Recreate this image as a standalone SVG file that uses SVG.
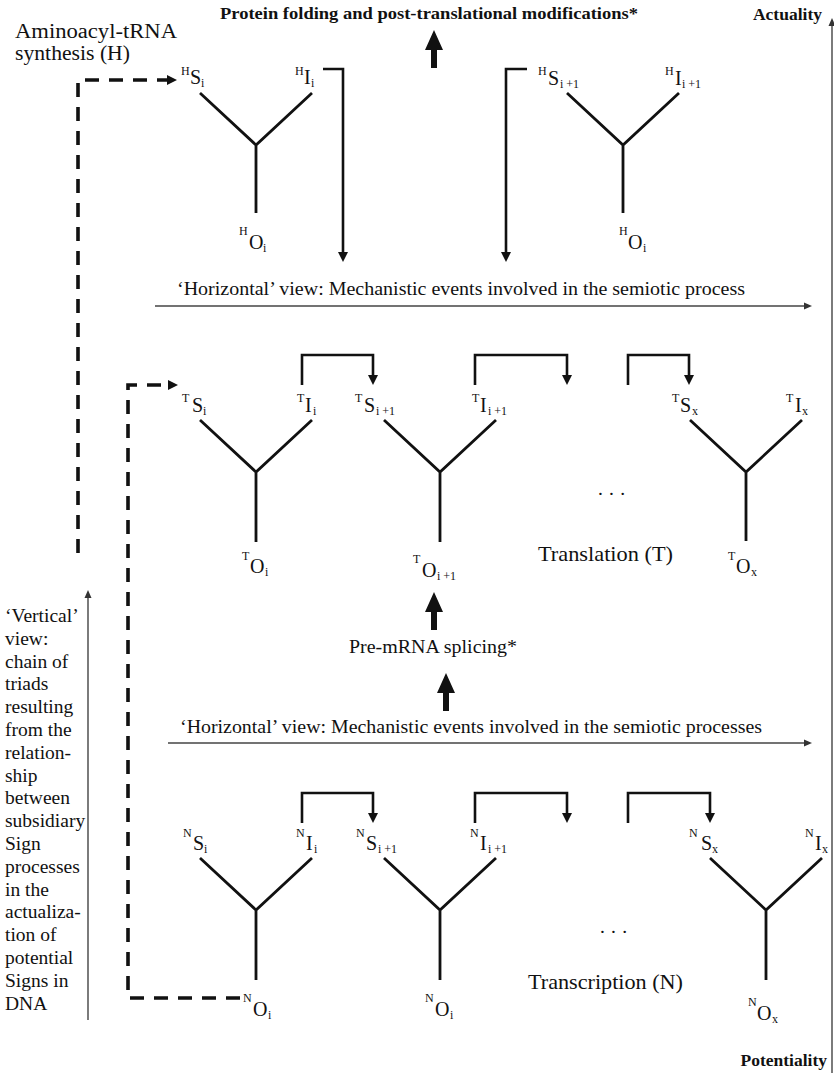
<svg xmlns="http://www.w3.org/2000/svg" width="834" height="1073" viewBox="0 0 834 1073">
<style>
text{font-family:"Liberation Serif","Times New Roman",serif;fill:#111}
.t{font-size:19.5px}
.b{font-size:17.5px;font-weight:bold}
.sup{font-size:12px}
.main{font-size:20px}
.sub{font-size:12px}
.tri{fill:none;stroke:#111;stroke-width:2.8;stroke-linejoin:miter}
.br{fill:none;stroke:#111;stroke-width:2.6;marker-end:url(#ah)}
.dash{fill:none;stroke:#111;stroke-width:3.6;stroke-dasharray:14 10;marker-end:url(#dh)}
.thin{fill:none;stroke:#444;stroke-width:1.4;marker-end:url(#th)}
.blk{fill:#111}
</style>
<defs>
<marker id="ah" markerUnits="userSpaceOnUse" markerWidth="10" markerHeight="10" refX="0" refY="5" orient="auto"><path d="M0,0 L10,5 L0,10 Z" fill="#111"/></marker>
<marker id="dh" markerUnits="userSpaceOnUse" markerWidth="12" markerHeight="12" refX="0" refY="6" orient="auto"><path d="M0,1 L10,6 L0,11 Z" fill="#111"/></marker>
<marker id="th" markerUnits="userSpaceOnUse" markerWidth="9" markerHeight="8" refX="0" refY="4" orient="auto"><path d="M0,0.5 L8,4 L0,7.5 Z" fill="#333"/></marker>
<path id="blockArrow" d="M0,0 L9,20 L3,20 L3,38 L-3,38 L-3,20 L-9,20 Z"/>
</defs>

<g id="labels">
<text class="b" x="220" y="19" textLength="418" lengthAdjust="spacingAndGlyphs">Protein folding and post-translational modifications*</text>
<text class="b" x="822" y="20" text-anchor="end">Actuality</text>
<text class="t" x="15" y="38" textLength="162" lengthAdjust="spacingAndGlyphs" style="font-size:20px">Aminoacyl-tRNA</text>
<text class="t" x="15" y="60" textLength="115" lengthAdjust="spacingAndGlyphs" style="font-size:20px">synthesis (H)</text>
<text class="t" x="177" y="295" textLength="568" lengthAdjust="spacingAndGlyphs">‘Horizontal’ view: Mechanistic events involved in the semiotic process</text>
<text class="t" x="538" y="561" textLength="135" lengthAdjust="spacingAndGlyphs" style="font-size:21px">Translation (T)</text>
<text class="t" x="598" y="495" textLength="27" lengthAdjust="spacing">. . .</text>
<text class="t" x="349" y="653" textLength="168" lengthAdjust="spacingAndGlyphs">Pre-mRNA splicing*</text>
<text class="t" x="180" y="733" textLength="582" lengthAdjust="spacingAndGlyphs">‘Horizontal’ view: Mechanistic events involved in the semiotic processes</text>
<text class="t" x="600" y="933" textLength="27" lengthAdjust="spacing">. . .</text>
<text class="t" x="528" y="989" textLength="155" lengthAdjust="spacingAndGlyphs" style="font-size:21px">Transcription (N)</text>
<text class="b" x="827" y="1066" text-anchor="end">Potentiality</text>
<text class="t" x="5">
<tspan x="5" y="622">‘Vertical’</tspan>
<tspan x="5" y="644.8">view:</tspan>
<tspan x="5" y="667.6">chain of</tspan>
<tspan x="5" y="690.4">triads</tspan>
<tspan x="5" y="713.2">resulting</tspan>
<tspan x="5" y="736">from the</tspan>
<tspan x="5" y="758.8">relation-</tspan>
<tspan x="5" y="781.6">ship</tspan>
<tspan x="5" y="804.4">between</tspan>
<tspan x="5" y="827.2">subsidiary</tspan>
<tspan x="5" y="850">Sign</tspan>
<tspan x="5" y="872.8">processes</tspan>
<tspan x="5" y="895.6">in the</tspan>
<tspan x="5" y="918.4">actualiza-</tspan>
<tspan x="5" y="941.2">tion of</tspan>
<tspan x="5" y="964">potential</tspan>
<tspan x="5" y="986.8">Signs in</tspan>
<tspan x="5" y="1009.6">DNA</tspan>
</text>
</g>

<g id="triad-H-i">
<path class="tri" d="M200,93 L256,145 L312,93 M256,145 V213"/>
<text><tspan class="sup" x="181" y="75">H</tspan><tspan class="main" x="190" y="84">S</tspan><tspan class="sub" x="201" y="87">i</tspan></text>
<text><tspan class="sup" x="295" y="75">H</tspan><tspan class="main" x="304" y="84">I</tspan><tspan class="sub" x="311" y="87">i</tspan></text>
<text><tspan class="sup" x="239" y="235">H</tspan><tspan class="main" x="249" y="249">O</tspan><tspan class="sub" x="263" y="252">i</tspan></text>
</g>

<g id="triad-H-i1">
<path class="tri" d="M567,93 L623,145 L679,93 M623,145 V213"/>
<text><tspan class="sup" x="538" y="75">H</tspan><tspan class="main" x="548" y="85">S</tspan><tspan class="sub" x="560" y="88">i +1</tspan></text>
<text><tspan class="sup" x="665" y="75">H</tspan><tspan class="main" x="675" y="85">I</tspan><tspan class="sub" x="682" y="88">i +1</tspan></text>
<text><tspan class="sup" x="619" y="235">H</tspan><tspan class="main" x="628" y="249">O</tspan><tspan class="sub" x="643" y="252">i</tspan></text>
</g>

<g id="triad-T-i">
<path class="tri" d="M200,420 L256,472 L312,420 M256,472 V542"/>
<text><tspan class="sup" x="182" y="402">T</tspan><tspan class="main" x="192" y="412">S</tspan><tspan class="sub" x="203" y="415">i</tspan></text>
<text><tspan class="sup" x="297" y="402">T</tspan><tspan class="main" x="305" y="412">I</tspan><tspan class="sub" x="313" y="415">i</tspan></text>
<text><tspan class="sup" x="242" y="560">T</tspan><tspan class="main" x="250" y="573">O</tspan><tspan class="sub" x="265" y="576">i</tspan></text>
</g>

<g id="triad-T-i1">
<path class="tri" d="M384,420 L440,472 L496,420 M440,472 V542"/>
<text><tspan class="sup" x="355" y="402">T</tspan><tspan class="main" x="364" y="412">S</tspan><tspan class="sub" x="376" y="415">i +1</tspan></text>
<text><tspan class="sup" x="472" y="402">T</tspan><tspan class="main" x="480" y="412">I</tspan><tspan class="sub" x="488" y="415">i +1</tspan></text>
<text><tspan class="sup" x="413" y="563">T</tspan><tspan class="main" x="422" y="577">O</tspan><tspan class="sub" x="437" y="580">i +1</tspan></text>
</g>

<g id="triad-T-x">
<path class="tri" d="M690,420 L746,472 L802,420 M746,472 V541"/>
<text><tspan class="sup" x="672" y="402">T</tspan><tspan class="main" x="680" y="412">S</tspan><tspan class="sub" x="692" y="415">x</tspan></text>
<text><tspan class="sup" x="786" y="402">T</tspan><tspan class="main" x="795" y="412">I</tspan><tspan class="sub" x="802" y="415">x</tspan></text>
<text><tspan class="sup" x="728" y="560">T</tspan><tspan class="main" x="736" y="573">O</tspan><tspan class="sub" x="751" y="576">x</tspan></text>
</g>

<g id="triad-N-i">
<path class="tri" d="M200,858 L256,910 L312,858 M256,910 V980"/>
<text><tspan class="sup" x="183" y="837">N</tspan><tspan class="main" x="193" y="850">S</tspan><tspan class="sub" x="204" y="853">i</tspan></text>
<text><tspan class="sup" x="296" y="837">N</tspan><tspan class="main" x="306" y="850">I</tspan><tspan class="sub" x="314" y="853">i</tspan></text>
<text><tspan class="sup" x="243" y="1002">N</tspan><tspan class="main" x="253" y="1016">O</tspan><tspan class="sub" x="268" y="1019">i</tspan></text>
</g>

<g id="triad-N-i1">
<path class="tri" d="M384,858 L440,910 L496,858 M440,910 V980"/>
<text><tspan class="sup" x="356" y="837">N</tspan><tspan class="main" x="366" y="850">S</tspan><tspan class="sub" x="378" y="853">i +1</tspan></text>
<text><tspan class="sup" x="470" y="837">N</tspan><tspan class="main" x="480" y="850">I</tspan><tspan class="sub" x="488" y="853">i +1</tspan></text>
<text><tspan class="sup" x="425" y="1002">N</tspan><tspan class="main" x="435" y="1016">O</tspan><tspan class="sub" x="450" y="1019">i</tspan></text>
</g>

<g id="triad-N-x">
<path class="tri" d="M710,858 L766,910 L822,858 M766,910 V980"/>
<text><tspan class="sup" x="689" y="837">N</tspan><tspan class="main" x="701" y="850">S</tspan><tspan class="sub" x="712" y="853">x</tspan></text>
<text><tspan class="sup" x="805" y="837">N</tspan><tspan class="main" x="815" y="850">I</tspan><tspan class="sub" x="822" y="853">x</tspan></text>
<text><tspan class="sup" x="748" y="1006">N</tspan><tspan class="main" x="757" y="1020">O</tspan><tspan class="sub" x="772" y="1023">x</tspan></text>
</g>

<g id="connectors">
<path class="br" d="M323,69 H343 V252"/>
<path class="br" d="M527,69 H506 V252"/>
<path class="br" d="M302,385 V355 H373 V375"/>
<path class="br" d="M475,385 V355 H567 V375"/>
<path class="br" d="M628,385 V355 H689 V375"/>
<path class="br" d="M302,823 V793 H373 V813"/>
<path class="br" d="M475,823 V793 H567 V813"/>
<path class="br" d="M628,823 V793 H710 V813"/>
<path class="dash" d="M78,553 V80 H167"/>
<path class="dash" d="M240,998 H128 V385 H168"/>
<path class="thin" d="M155,306 H804"/>
<path class="thin" d="M168,743 H804"/>
<path class="thin" d="M88,1020 V598"/>
<path class="thin" d="M832,1073 V26"/>
<use href="#blockArrow" class="blk" x="434" y="30"/>
<use href="#blockArrow" class="blk" x="434" y="592"/>
<use href="#blockArrow" class="blk" x="446" y="673"/>
</g>
</svg>
